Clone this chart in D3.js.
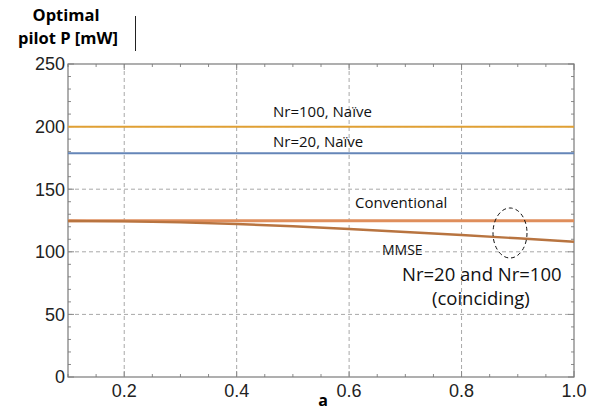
<!DOCTYPE html>
<html>
<head>
<meta charset="utf-8">
<script src="https://cdn.jsdelivr.net/npm/d3@7"></script>
<style>
  body { margin: 0; background: #fff; }
  svg { display: block; }
</style>
</head>
<body>
<svg id="chart" width="601" height="412"></svg>
<script>
// data
const xVals = [0.1, 0.2, 0.3, 0.4, 0.5, 0.6, 0.7, 0.8, 0.9, 1.0];
const mmse = [124.6, 124.3, 123.5, 122.2, 120.4, 118.2, 115.8, 113.4, 110.8, 108.0];
const conventional = 124.8;
const naive20 = 178.8;
const naive100 = 199.8;
const xTicks = [0.2, 0.4, 0.6, 0.8, 1.0];
const yTicks = [0, 50, 100, 150, 200, 250];

const svg = d3.select("#chart");
const margin = { top: 64, right: 27, bottom: 35, left: 68 };
const width = 601 - margin.left - margin.right,
  height = 412 - margin.top - margin.bottom;

const x = d3.scaleLinear().domain([0.1, 1.0]).range([0, width]);
const y = d3.scaleLinear().domain([0, 250]).range([height, 0]);

const g = svg.append("g").attr("transform", `translate(${margin.left}, ${margin.top})`);

// grid
g.selectAll(".vgrid").data(xTicks.filter(d => d < 1)).enter().append("line")
  .attr("x1", d => x(d)).attr("x2", d => x(d)).attr("y1", 0).attr("y2", height)
  .style("stroke", "#a8a8a8").style("stroke-dasharray", "4,3");
g.selectAll(".hgrid").data(yTicks.filter(d => d > 0 && d < 250)).enter().append("line")
  .attr("x1", 0).attr("x2", width).attr("y1", d => y(d)).attr("y2", d => y(d))
  .style("stroke", "#a8a8a8").style("stroke-dasharray", "4,3");

// frame ticks (inward), major + minor
const xMinor = d3.range(0.1, 1.0001, 0.05);
const yMinor = d3.range(0, 250.01, 10);
const tickCol = "#8a8a8a";
xMinor.forEach(v => {
  const big = xTicks.some(t => Math.abs(t - v) < 1e-6);
  const len = big ? 6 : 3;
  g.append("line").attr("x1", x(v)).attr("x2", x(v)).attr("y1", height).attr("y2", height - len).style("stroke", tickCol);
  g.append("line").attr("x1", x(v)).attr("x2", x(v)).attr("y1", 0).attr("y2", len).style("stroke", tickCol);
});
yMinor.forEach(v => {
  const big = yTicks.includes(Math.round(v));
  const len = big ? 6 : 3;
  g.append("line").attr("x1", 0).attr("x2", len).attr("y1", y(v)).attr("y2", y(v)).style("stroke", tickCol);
  g.append("line").attr("x1", width).attr("x2", width - len).attr("y1", y(v)).attr("y2", y(v)).style("stroke", tickCol);
});

// frame
g.append("rect").attr("width", width).attr("height", height)
  .style("fill", "none").style("stroke", "#7a7a7a").style("stroke-width", 1.2);

// tick labels
g.selectAll(".xl").data(xTicks).enter().append("text")
  .attr("x", d => x(d)).attr("y", height + 20)
  .attr("text-anchor", "middle")
  .style("font-family", "Liberation Sans, Arial, sans-serif").style("font-size", "18px").style("fill", "#222")
  .text(d => d.toFixed(1));
g.selectAll(".yl").data(yTicks).enter().append("text")
  .attr("x", -3).attr("y", d => y(d)).attr("dy", "0.36em")
  .attr("text-anchor", "end")
  .style("font-family", "Liberation Sans, Arial, sans-serif").style("font-size", "18px").style("fill", "#222")
  .text(d => d);

// lines
const flat = (v, col, w) => g.append("line")
  .attr("x1", x(0.1)).attr("x2", x(1.0)).attr("y1", y(v)).attr("y2", y(v))
  .style("stroke", col).style("stroke-width", w);
flat(naive100, "#e0a034", 2);
flat(naive20, "#6586b8", 2);
flat(conventional, "#df8e5c", 2.8);

const line = d3.line().x(d => x(d[0])).y(d => y(d[1])).curve(d3.curveMonotoneX);
g.append("path").datum(xVals.map((v, i) => [v, mmse[i]]))
  .attr("d", line).style("fill", "none").style("stroke", "#b87440").style("stroke-width", 2.4);

// annotations
const note = (tx, ty, s, size) => svg.append("text").attr("x", tx).attr("y", ty)
  .style("font-family", "Open Sans, Noto Sans, sans-serif").style("font-size", size + "px").style("fill", "#111").text(s);
note(273, 117, "Nr=100, Naïve", 15);
note(273, 147, "Nr=20, Naïve", 15);
note(355, 208, "Conventional", 15);
note(382, 255, "MMSE", 14);
note(402, 281, "Nr=20 and Nr=100", 18.5);
note(432, 305, "(coinciding)", 18.5);

svg.append("ellipse").attr("cx", 510).attr("cy", 233).attr("rx", 17).attr("ry", 25)
  .style("fill", "none").style("stroke", "#111").style("stroke-dasharray", "4,3");

// axis titles
const title = svg.append("text").attr("text-anchor", "middle")
  .style("font-family", "Open Sans, Noto Sans, sans-serif").style("font-weight", "bold").style("font-size", "16.5px");
title.append("tspan").attr("x", 66).attr("y", 21).text("Optimal");
title.append("tspan").attr("x", 68).attr("y", 44).text("pilot P [mW]");
svg.append("line").attr("x1", 135.5).attr("x2", 135.5).attr("y1", 16).attr("y2", 51).style("stroke", "#222");

svg.append("text").attr("x", 323).attr("y", 406).attr("text-anchor", "middle")
  .style("font-family", "Open Sans, Noto Sans, sans-serif").style("font-weight", "bold").style("font-size", "16px")
  .text("a");
</script>
</body>
</html>
